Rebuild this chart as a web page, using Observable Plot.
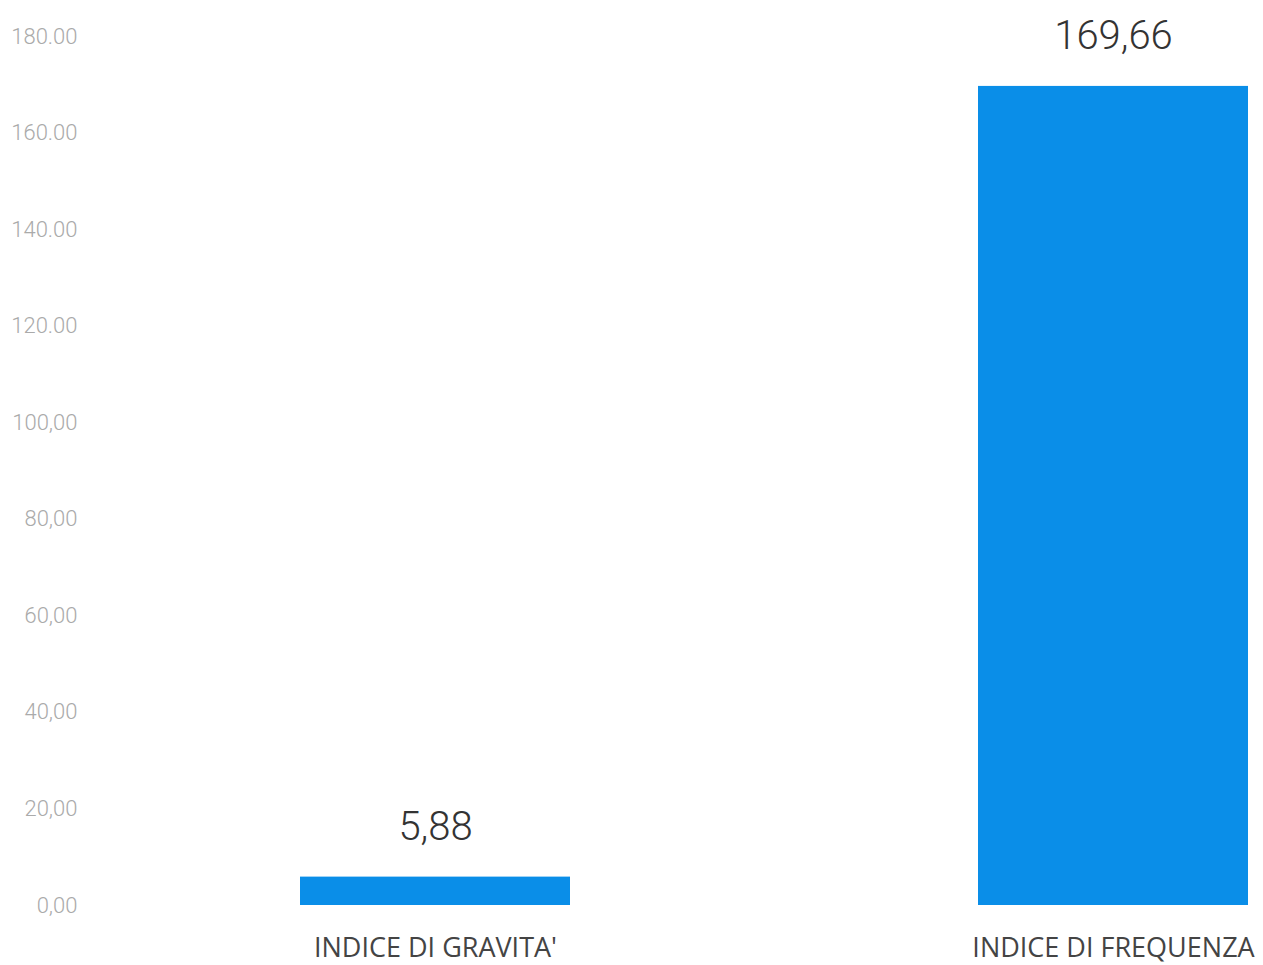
<!DOCTYPE html>
<html>
<head>
<meta charset="utf-8">
<script src="https://cdn.jsdelivr.net/npm/d3@7"></script>
<script src="https://cdn.jsdelivr.net/npm/@observablehq/plot@0.6"></script>
<style>
  html, body { margin: 0; padding: 0; background: #fff; }
  #chart svg { display: block; }
</style>
</head>
<body>
<div id="chart"></div>
<script>
const categories = ["INDICE DI GRAVITA'", "INDICE DI FREQUENZA"];
const values = [5.88, 169.66];
const valueLabels = ["5,88", "169,66"];
const yTicks = [0, 20, 40, 60, 80, 100, 120, 140, 160, 180];
const yTickLabels = ["0,00", "20,00", "40,00", "60,00", "80,00", "100,00", "120.00", "140.00", "160.00", "180.00"];

const data = categories.map((c, i) => ({category: c, value: values[i], label: valueLabels[i]}));

const chart = Plot.plot({
  width: 1263,
  height: 965,
  marginLeft: 90,
  marginRight: 0,
  marginTop: 36,
  marginBottom: 60,
  style: {background: "#fff"},
  x: {domain: categories, paddingInner: 0.6024, paddingOuter: 0.165, align: 0.933, label: null},
  y: {domain: [0, 180], label: null},
  marks: [
    Plot.barY(data, {x: "category", y: "value", fill: "#0a8ee8"}),
    Plot.text(data, {
      x: "category", y: "value", text: "label",
      dy: -50, lineAnchor: "middle",
      fontSize: 40, fontFamily: "Roboto, sans-serif", fontWeight: 300, fill: "#333"
    }),
    Plot.axisY({
      ticks: yTicks,
      tickFormat: d => yTickLabels[yTicks.indexOf(d)],
      tickSize: 0, tickPadding: 13,
      fontSize: 22, fontFamily: "Roboto, sans-serif", fontWeight: 300, fill: "#aaa",
      label: null
    }),
    Plot.axisX({
      tickSize: 0, tickPadding: 32,
      fontSize: 27, fontFamily: "'Open Sans', sans-serif", fill: "#444",
      label: null
    })
  ]
});
document.getElementById("chart").appendChild(chart);
</script>
</body>
</html>
